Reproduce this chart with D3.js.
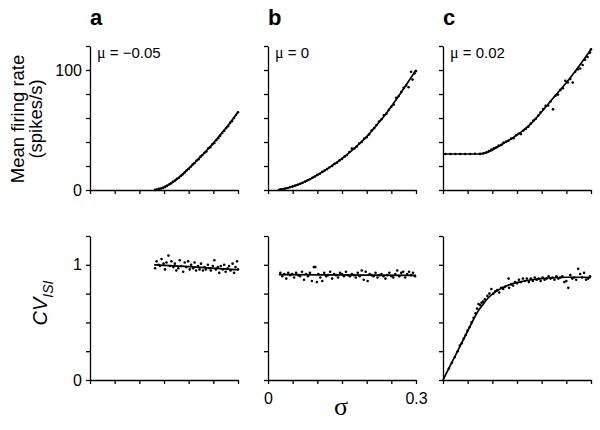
<!DOCTYPE html>
<html>
<head>
  <script src="https://cdnjs.cloudflare.com/ajax/libs/d3/7.8.5/d3.min.js"></script>
  <style>
    body { margin: 0; background: #fff; }
    svg text { font-family: "Liberation Sans", Arial, Helvetica, sans-serif; fill: #000; }
    .axis path, .axis line { stroke: #000; stroke-width: 1.3px; }
    .fit { fill: none; stroke: #000; stroke-width: 1.7px; }
    .greek { font-family: "Liberation Serif", "DejaVu Serif", serif; }
  </style>
</head>
<body>
<svg id="fig" width="600" height="430"></svg>
<script>
  // ---- data ----
  var panelLetters = ["a", "b", "c"];
  var muValues = ["\u22120.05", "0", "0.02"];
  var sigmaTicks = [0, 0.05, 0.1, 0.15, 0.2, 0.25, 0.3];
  var rateTicks = [0, 20, 40, 60, 80, 100, 120];
  var cvTicks = [0, 0.25, 0.5, 0.75, 1, 1.25];

  // fitted curves, [sigma, value]
  var rateFitA = [[0.13,0.1],[0.14,0.8],[0.15,2.2],[0.16,4.3],[0.17,7],[0.18,10.2],[0.19,13.9],[0.2,17.8],[0.21,21.8],[0.22,26],[0.23,30.2],[0.24,34.6],[0.25,39.1],[0.26,43.9],[0.27,48.9],[0.28,54],[0.29,59.4],[0.3,65]];
  var rateFitB = [[0.02,0.2],[0.03,0.8],[0.04,1.7],[0.05,2.9],[0.06,4.3],[0.08,8],[0.1,12.5],[0.12,17.6],[0.14,23.2],[0.16,29.5],[0.18,36.6],[0.2,44.5],[0.22,54],[0.24,64],[0.26,75.5],[0.28,87.5],[0.3,100]];
  var rateFitC = [[0,30],[0.07,30],[0.08,30.3],[0.085,30.7],[0.09,31.3],[0.095,32.2],[0.1,33.3],[0.11,35.6],[0.12,38.1],[0.14,43],[0.16,48.8],[0.18,56],[0.2,65.2],[0.22,75],[0.24,84.6],[0.26,94.6],[0.28,105.6],[0.3,117]];
  var cvFitA = [[0.13,1.0],[0.2,0.985],[0.3,0.957]];
  var cvFitB = [[0.022,0.915],[0.3,0.908]];
  var cvFitC = [[0,0],[0.02,0.17],[0.04,0.34],[0.06,0.51],[0.07,0.59],[0.08,0.65],[0.09,0.705],[0.1,0.745],[0.12,0.8],[0.14,0.835],[0.16,0.855],[0.18,0.87],[0.2,0.88],[0.22,0.886],[0.25,0.892],[0.28,0.892],[0.3,0.888]];

  // simulated points, [sigma, value]
  var rateDotsA = [[0.132,0.1],[0.136,0.4],[0.140,0.9],[0.144,1.3],[0.148,1.9],[0.152,2.6],[0.156,3.4],[0.160,4.6],[0.164,5.5],[0.168,6.8],[0.172,7.9],[0.176,9.4],[0.180,10.2],[0.184,11.9],[0.188,13.1],[0.192,14.8],[0.196,16.5],[0.200,17.6],[0.204,19.4],[0.208,21.2],[0.212,22.5],[0.216,24.6],[0.220,25.7],[0.224,27.8],[0.228,29.1],[0.232,30.9],[0.236,32.1],[0.240,34.8],[0.244,35.6],[0.248,38.1],[0.252,39.2],[0.256,41.5],[0.260,43.2],[0.264,45.3],[0.268,47.5],[0.272,49.4],[0.276,51.6],[0.280,53.2],[0.284,55.9],[0.288,57.4],[0.292,60.1],[0.296,62.5],[0.300,64.8]];
  var rateDotsB = [[0.025,0.5],[0.03,0.8],[0.035,1.3],[0.04,1.7],[0.045,2.4],[0.05,3.0],[0.055,3.7],[0.06,4.4],[0.065,5.2],[0.07,6.1],[0.075,7.0],[0.08,8.1],[0.085,9.0],[0.09,10.2],[0.095,11.3],[0.1,12.6],[0.105,13.6],[0.11,15.1],[0.115,16.2],[0.12,17.4],[0.125,18.9],[0.13,20.1],[0.135,21.8],[0.14,22.7],[0.145,24.6],[0.15,25.9],[0.155,27.8],[0.16,29.1],[0.165,31.6],[0.17,34.5],[0.175,34.6],[0.18,36.2],[0.185,38.7],[0.19,40.1],[0.195,42.8],[0.2,44.0],[0.205,46.3],[0.21,49.6],[0.215,51.4],[0.22,54.2],[0.225,57.1],[0.23,59.0],[0.235,62.3],[0.24,63.5],[0.245,66.9],[0.25,69.4],[0.255,71.0],[0.26,76.8],[0.265,78.3],[0.27,81.6],[0.275,85.2],[0.28,87.1],[0.285,85.6],[0.29,98.6],[0.293,92.0],[0.297,97.2],[0.3,99.1]];
  var rateDotsC = [[0.005,30],[0.015,30],[0.025,30],[0.035,30],[0.045,30],[0.055,30],[0.065,30.2],[0.075,30.1],[0.082,30.6],[0.088,31.4],[0.093,32.5],[0.098,33.8],[0.103,34.7],[0.108,35.6],[0.113,37.1],[0.118,37.6],[0.123,39.5],[0.128,40.4],[0.133,41.2],[0.138,42.8],[0.143,43.2],[0.148,45.6],[0.153,46.9],[0.158,46.6],[0.163,49.6],[0.168,51.1],[0.173,52.8],[0.178,55.4],[0.183,57.8],[0.188,59.3],[0.193,62.1],[0.198,64.7],[0.203,67.5],[0.208,70.1],[0.213,70.5],[0.218,73.8],[0.223,67.2],[0.228,78.6],[0.233,79.5],[0.238,83.4],[0.243,84.8],[0.248,91.0],[0.253,89.6],[0.258,92.4],[0.263,89.5],[0.268,98.6],[0.273,100.5],[0.278,101.3],[0.283,104.2],[0.288,108.6],[0.293,110.8],[0.298,114.5],[0.3,117.3]];
  var cvDotsA = [[0.132,0.97],[0.135,1.03],[0.139,1.00],[0.142,0.99],[0.145,1.05],[0.149,1.01],[0.152,0.96],[0.155,1.02],[0.159,1.08],[0.162,0.99],[0.165,1.03],[0.169,0.98],[0.172,1.01],[0.175,0.95],[0.179,0.97],[0.182,1.04],[0.185,0.99],[0.189,0.94],[0.192,1.02],[0.195,0.98],[0.199,1.03],[0.202,0.96],[0.205,1.00],[0.209,0.97],[0.212,1.02],[0.215,0.95],[0.219,0.99],[0.222,0.96],[0.225,1.01],[0.229,0.95],[0.232,0.98],[0.235,0.96],[0.239,1.00],[0.242,0.97],[0.245,0.95],[0.249,0.99],[0.252,1.04],[0.255,0.96],[0.259,0.98],[0.262,0.93],[0.265,0.99],[0.269,0.96],[0.272,1.00],[0.275,0.94],[0.279,0.97],[0.282,0.99],[0.285,0.95],[0.289,1.01],[0.292,0.93],[0.295,0.98],[0.298,1.03],[0.3,0.96]];
  var cvDotsB = [[0.025,0.93],[0.029,0.90],[0.033,0.92],[0.037,0.88],[0.041,0.93],[0.045,0.91],[0.049,0.92],[0.053,0.89],[0.057,0.93],[0.061,0.91],[0.065,0.90],[0.069,0.94],[0.073,0.87],[0.077,0.92],[0.081,0.90],[0.085,0.93],[0.089,0.86],[0.093,0.98],[0.096,0.98],[0.099,0.85],[0.102,0.92],[0.106,0.89],[0.11,0.86],[0.114,0.93],[0.118,0.90],[0.122,0.91],[0.126,0.94],[0.13,0.88],[0.134,0.92],[0.138,0.91],[0.142,0.89],[0.146,0.93],[0.15,0.92],[0.154,0.90],[0.158,0.94],[0.162,0.91],[0.166,0.90],[0.17,0.92],[0.174,0.91],[0.178,0.89],[0.182,0.93],[0.186,0.90],[0.19,0.95],[0.194,0.87],[0.198,0.94],[0.202,0.86],[0.206,0.92],[0.21,0.91],[0.214,0.90],[0.218,0.93],[0.222,0.89],[0.226,0.91],[0.23,0.92],[0.234,0.90],[0.238,0.88],[0.242,0.91],[0.246,0.93],[0.25,0.90],[0.254,0.89],[0.258,0.92],[0.262,0.95],[0.266,0.90],[0.27,0.93],[0.274,0.94],[0.278,0.89],[0.282,0.92],[0.286,0.94],[0.29,0.91],[0.294,0.93],[0.298,0.90]];
  var cvDotsC = [[0.012,0.10],[0.018,0.15],[0.024,0.20],[0.03,0.25],[0.034,0.30],[0.038,0.32],[0.042,0.36],[0.046,0.39],[0.05,0.43],[0.054,0.46],[0.058,0.50],[0.062,0.54],[0.066,0.58],[0.069,0.62],[0.072,0.66],[0.075,0.65],[0.078,0.67],[0.081,0.68],[0.085,0.70],[0.09,0.73],[0.094,0.75],[0.098,0.79],[0.102,0.75],[0.106,0.77],[0.11,0.78],[0.114,0.76],[0.118,0.80],[0.122,0.79],[0.126,0.81],[0.133,0.88],[0.134,0.80],[0.138,0.83],[0.142,0.82],[0.146,0.85],[0.15,0.84],[0.154,0.87],[0.158,0.85],[0.162,0.88],[0.166,0.86],[0.17,0.88],[0.174,0.85],[0.178,0.88],[0.182,0.86],[0.186,0.89],[0.19,0.87],[0.194,0.88],[0.198,0.86],[0.202,0.89],[0.206,0.87],[0.21,0.88],[0.214,0.90],[0.218,0.88],[0.222,0.89],[0.226,0.87],[0.23,0.90],[0.234,0.88],[0.238,0.89],[0.242,0.90],[0.246,0.85],[0.25,0.86],[0.254,0.80],[0.258,0.91],[0.262,0.88],[0.266,0.89],[0.274,0.965],[0.27,0.87],[0.278,0.92],[0.282,0.89],[0.286,0.93],[0.29,0.87],[0.294,0.88],[0.298,0.90]];

  var rateFits = [rateFitA, rateFitB, rateFitC];
  var rateDots = [rateDotsA, rateDotsB, rateDotsC];
  var cvFits = [cvFitA, cvFitB, cvFitC];
  var cvDots = [cvDotsA, cvDotsB, cvDotsC];

  // ---- layout ----
  var panelLeft = [90, 268, 443];
  var panelW = 148;
  var topRow = {y0: 46, y1: 190};
  var botRow = {y0: 236, y1: 380};
  var FONT = '"Liberation Sans", Arial, Helvetica, sans-serif';

  var svg = d3.select("#fig");

  function drawPanel(i, row, yDomain, yTicks, fit, dots, yLabels, xLabels) {
    var x = d3.scaleLinear().domain([0, 0.3]).range([panelLeft[i], panelLeft[i] + panelW]);
    var y = d3.scaleLinear().domain(yDomain).range([row.y1, row.y0]);

    var xAxis = d3.axisBottom(x)
      .tickValues(sigmaTicks)
      .tickSize(4)
      .tickSizeOuter(0)
      .tickPadding(9)
      .tickFormat(function(d) { return xLabels[d] || ""; });

    var yAxis = d3.axisLeft(y)
      .tickValues(yTicks)
      .tickSize(4)
      .tickSizeOuter(0)
      .tickPadding(4)
      .tickFormat(function(d) { return yLabels[d] || ""; });

    svg.append("g")
      .attr("class", "axis")
      .attr("transform", "translate(0," + row.y1 + ")")
      .call(xAxis)
      .attr("font-size", 16)
      .attr("font-family", FONT);

    svg.append("g")
      .attr("class", "axis")
      .attr("transform", "translate(" + panelLeft[i] + ",0)")
      .call(yAxis)
      .attr("font-size", 16)
      .attr("font-family", FONT);

    svg.append("g").selectAll("circle")
      .data(dots)
      .enter()
      .append("circle")
      .attr("cx", function(d) { return x(d[0]); })
      .attr("cy", function(d) { return y(d[1]); })
      .attr("r", 1.3)
      .attr("fill", "#000");

    var line = d3.line()
      .x(function(d) { return x(d[0]); })
      .y(function(d) { return y(d[1]); })
      .curve(d3.curveMonotoneX);

    svg.append("path")
      .attr("class", "fit")
      .attr("d", line(fit));
  }

  for (var i = 0; i < 3; i++) {
    var rateLab = i == 0 ? {0: "0", 100: "100"} : {};
    var cvLab = i == 0 ? {0: "0", 1: "1"} : {};
    var sigLab = i == 1 ? {0: "0", 0.3: "0.3"} : {};
    drawPanel(i, topRow, [0, 120], rateTicks, rateFits[i], rateDots[i], rateLab, {});
    drawPanel(i, botRow, [0, 1.25], cvTicks, cvFits[i], cvDots[i], cvLab, sigLab);

    svg.append("text")
      .attr("x", panelLeft[i])
      .attr("y", 25)
      .attr("font-size", 22)
      .attr("font-weight", "bold")
      .text(panelLetters[i]);

    var mu = svg.append("text")
      .attr("x", panelLeft[i] + 7)
      .attr("y", 58)
      .attr("font-size", 15);
    mu.append("tspan").attr("class", "greek").attr("font-size", 16).text("\u03bc");
    mu.append("tspan").text(" = " + muValues[i]);
  }

  // y titles
  var rt = svg.append("text")
    .attr("transform", "translate(0,119) rotate(-90)")
    .attr("text-anchor", "middle")
    .attr("font-size", 18.5);
  rt.append("tspan").attr("x", 0).attr("y", 24).text("Mean firing rate");
  rt.append("tspan").attr("x", 0).attr("y", 42).text("(spikes/s)");

  var ct = svg.append("text")
    .attr("transform", "translate(47,303) rotate(-90)")
    .attr("text-anchor", "middle")
    .attr("font-style", "italic")
    .attr("font-size", 20);
  ct.append("tspan").text("CV");
  ct.append("tspan").attr("font-size", 14).attr("dy", 6).text("ISI");

  // x title
  svg.append("text")
    .attr("class", "greek")
    .attr("x", 341)
    .attr("y", 415)
    .attr("text-anchor", "middle")
    .attr("font-size", 26)
    .text("\u03c3");
</script>
</body>
</html>
